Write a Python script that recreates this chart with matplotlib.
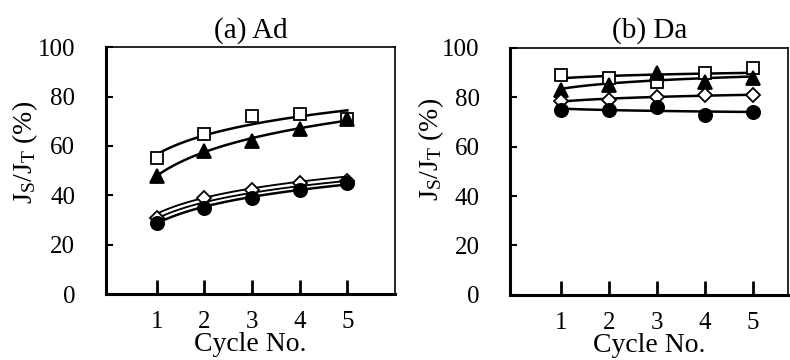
import numpy as np
import matplotlib
matplotlib.use("Agg")
import matplotlib.pyplot as plt

plt.rcParams['font.family'] = ['Liberation Serif', 'DejaVu Serif']
plt.rcParams['mathtext.fontset'] = 'custom'
plt.rcParams['mathtext.rm'] = 'Liberation Serif'
plt.rcParams['mathtext.it'] = 'Liberation Serif:italic'

cycles = [1, 2, 3, 4, 5]

# Panel (a) Ad
ad_square = [55, 65, 72, 73, 71]
ad_triangle = [48, 58, 62, 67, 71]
ad_diamond = [31, 39, 42, 45, 46]
ad_circle = [29, 35, 39, 42, 45]

# Panel (b) Da
da_square = [89, 88, 86, 90, 92]
da_triangle = [83, 85, 90, 86, 88]
da_diamond = [78.5, 79, 80, 81, 81]
da_circle = [75, 75, 76, 73, 74]

titles = ['(a) Ad', '(b) Da']
yticks = [0, 20, 40, 60, 80, 100]

fig = plt.figure(figsize=(7.9, 3.6), dpi=100)
ax1 = fig.add_axes([0.134, 0.183, 0.366, 0.686])
ax2 = fig.add_axes([0.646, 0.181, 0.352, 0.686])

styles = [
    ('s', 'white', 8.5),
    ('^', 'black', 9.5),
    ('D', 'white', 7.0),
    ('o', 'black', 9.5),
]


def logfit(x, y):
    x = np.asarray(x, float)
    b, a = np.polyfit(np.log(x), np.asarray(y, float), 1)
    xs = np.linspace(x.min(), x.max(), 100)
    return xs, a + b * np.log(xs)


def draw(ax, series, title, ylab_xy, hollow_line_idx=None, xmax=6.0):
    for i, (ys, (m, fc, ms)) in enumerate(zip(series, styles)):
        xs, fit = logfit(cycles, ys)
        if hollow_line_idx is not None and i == hollow_line_idx:
            ax.plot(xs, fit, color='black', lw=4.5, zorder=2)
            ax.plot(xs, fit, color='white', lw=1.8, zorder=2.1)
        else:
            ax.plot(xs, fit, color='black', lw=1.8, zorder=2)
        ax.plot(cycles, ys, linestyle='none', marker=m, markerfacecolor=fc,
                markeredgecolor='black', markeredgewidth=1.3, markersize=ms,
                zorder=3)
    ax.set_xlim(-0.07, xmax)
    ax.set_ylim(0, 100)
    ax.set_xticks(cycles)
    ax.set_yticks(yticks)
    ax.tick_params(axis='x', direction='in', length=10, width=2, pad=12,
                   labelsize=18)
    ax.tick_params(axis='y', direction='in', length=5, width=1.5, pad=22,
                   labelsize=18)
    for s in ['left', 'bottom']:
        ax.spines[s].set_linewidth(2.2)
    for s in ['top', 'right']:
        ax.spines[s].set_linewidth(1.2)
    ax.set_title(title, fontsize=21, pad=7)
    ax.set_xlabel('Cycle No.', fontsize=20, va='bottom')
    ax.xaxis.set_label_coords(0.5, -0.255)
    ax.set_ylabel(r'$\mathrm{J_S/J_T}$ (%)', fontsize=20, va='center')
    ax.yaxis.set_label_coords(*ylab_xy)


draw(ax1, [ad_square, ad_triangle, ad_diamond, ad_circle], titles[0],
     (-0.28, 0.575), hollow_line_idx=2, xmax=6.0)
draw(ax2, [da_square, da_triangle, da_diamond, da_circle], titles[1],
     (-0.284, 0.587), xmax=5.75)

fig.savefig('out.png', dpi=100)
